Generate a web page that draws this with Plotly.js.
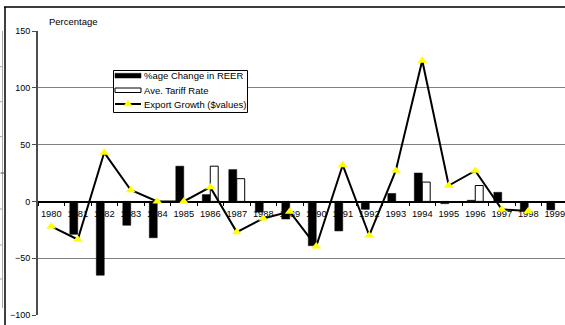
<!DOCTYPE html>
<html>
<head>
<meta charset="utf-8">
<script src="https://cdn.plot.ly/plotly-3.0.1.min.js"></script>
<style>
  html, body { margin: 0; padding: 0; background: #fff; }
  #chart { width: 565px; height: 325px; }
</style>
</head>
<body>
<div id="chart"></div>
<script>
// Yearly series, 1980-1999 (percent)
const years = [1980, 1981, 1982, 1983, 1984, 1985, 1986, 1987, 1988, 1989,
               1990, 1991, 1992, 1993, 1994, 1995, 1996, 1997, 1998, 1999];
const yearLabels = years.map(String);
const reerChange = [null, -29, -65, -21, -32, 31, 6, 28, -9.5, -15.5,
                    -39, -26, -7, 7, 25, -2, 1, 8, -8.5, -7.5];
const tariffRate = [null, null, null, null, null, null, 31, 20, null, null,
                    null, null, null, null, 17, null, 14, null, null, null];
const exportGrowth = [-22, -33.5, 43, 10, 0, 0, 12.5, -27, -15, -9,
                      -39.5, 32, -30, 27, 124, 14, 27, -7, -8.5, null];
const seriesNames = ['%age Change in REER', 'Ave. Tariff Rate', 'Export Growth ($values)'];
const yTicks = [-100, -50, 0, 50, 100, 150];
const yAxisTitle = 'Percentage';

// Page geometry
const W = 565, H = 325;
const M = { l: 38, r: 0, t: 31, b: 10 };
const plotW = W - M.l - M.r, plotH = H - M.t - M.b;
const catPx = 26.5;                       // width of one year slot
const xRange = [years[0] - 0.5, years[0] - 0.5 + plotW / catPx];
const yRange = [-100, 150];
const zeroPos = (0 - yRange[0]) / (yRange[1] - yRange[0]);
const boundaries = years.map(y => y - 0.5).concat([years[years.length - 1] + 0.5]);

// pixel -> paper helpers for decorations
const px = x => (x - M.l) / plotW;
const py = y => 1 - (y - M.t) / plotH;

const FONT = 'Liberation Sans, Arial, sans-serif';

const traces = [
  {
    type: 'bar', x: years, y: reerChange, name: seriesNames[0],
    marker: { color: '#000000', line: { color: '#000000', width: 0.5 } },
    showlegend: false, hoverinfo: 'skip'
  },
  {
    type: 'bar', x: years, y: tariffRate, name: seriesNames[1],
    marker: { color: '#ffffff', line: { color: '#000000', width: 1 } },
    showlegend: false, hoverinfo: 'skip'
  },
  {
    type: 'scatter', mode: 'lines+markers', x: years, y: exportGrowth, name: seriesNames[2],
    line: { color: '#000000', width: 2 },
    marker: { symbol: 'triangle-up', size: 8.5, color: '#ffff00', line: { width: 0 } },
    showlegend: false, hoverinfo: 'skip', cliponaxis: false
  }
];

// Legend drawn as a boxed key
const lg = { x0: 113.5, x1: 247.5, y0: 70.5, y1: 112.5, sx0: 115, sx1: 141, tx: 141.5,
             rows: [75.7, 90, 104] };
const triC = { x: (lg.sx0 + lg.sx1) / 2, y: lg.rows[2] };
const triPath = 'M ' + px(triC.x - 4.6) + ' ' + py(triC.y + 2.3) +
                ' L ' + px(triC.x + 4.6) + ' ' + py(triC.y + 2.3) +
                ' L ' + px(triC.x) + ' ' + py(triC.y - 4.3) + ' Z';

const shapes = [
  // outer frame edges
  { type: 'line', xref: 'paper', yref: 'paper', x0: px(4), x1: px(565), y0: py(7), y1: py(7),
    line: { color: '#3c3c3c', width: 2 } },
  { type: 'line', xref: 'paper', yref: 'paper', x0: px(5), x1: px(5), y0: py(7), y1: py(325),
    line: { color: '#000000', width: 1.5 } },
  // neighbouring panel edge
  { type: 'line', xref: 'paper', yref: 'paper', x0: px(2.5), x1: px(2.5), y0: py(31), y1: py(308),
    line: { color: '#a8a8a8', width: 1 } },
  // legend box and keys
  { type: 'rect', xref: 'paper', yref: 'paper', x0: px(lg.x0), x1: px(lg.x1), y0: py(lg.y0), y1: py(lg.y1),
    fillcolor: '#ffffff', line: { color: '#000000', width: 1 } },
  { type: 'rect', xref: 'paper', yref: 'paper', x0: px(lg.sx0), x1: px(lg.sx1), y0: py(73.3), y1: py(78),
    fillcolor: '#000000', line: { color: '#000000', width: 0.5 } },
  { type: 'rect', xref: 'paper', yref: 'paper', x0: px(lg.sx0), x1: px(lg.sx1), y0: py(88), y1: py(92.5),
    fillcolor: '#ffffff', line: { color: '#000000', width: 1 } },
  { type: 'line', xref: 'paper', yref: 'paper', x0: px(lg.sx0), x1: px(lg.sx1), y0: py(lg.rows[2]), y1: py(lg.rows[2]),
    line: { color: '#000000', width: 2 } },
  { type: 'path', xref: 'paper', yref: 'paper', path: triPath,
    fillcolor: '#ffff00', line: { width: 0 } }
];
[66.7, 101.7, 136.7, 209, 245, 279].forEach(y => shapes.push(
  { type: 'line', xref: 'paper', yref: 'paper', x0: px(0), x1: px(2.5), y0: py(y), y1: py(y),
    line: { color: '#a8a8a8', width: 1 } }));
shapes.push({ type: 'line', xref: 'paper', yref: 'paper', x0: px(0.5), x1: px(4.5), y0: py(173), y1: py(173),
  line: { color: '#555555', width: 1 } });

const annotations = [
  { text: yAxisTitle, xref: 'paper', yref: 'paper', x: px(47), y: py(21.5),
    xanchor: 'left', yanchor: 'middle', showarrow: false,
    font: { family: FONT, size: 9.5, color: '#000000' } }
].concat(seriesNames.map((name, i) => ({
  text: name, xref: 'paper', yref: 'paper', x: px(lg.tx), y: py(lg.rows[i]),
  xanchor: 'left', yanchor: 'middle', showarrow: false,
  font: { family: FONT, size: 9.5, color: '#000000' }
})));

const layout = {
  width: W, height: H,
  margin: M,
  paper_bgcolor: '#ffffff', plot_bgcolor: '#ffffff',
  font: { family: FONT, size: 9, color: '#000000' },
  showlegend: false,
  barmode: 'group', bargap: 0.4, bargroupgap: 0,
  xaxis: {
    type: 'linear', range: xRange, anchor: 'free', position: zeroPos,
    showline: true, linecolor: '#000000', linewidth: 1.5,
    tickmode: 'array', tickvals: years, ticktext: yearLabels, ticks: '',
    ticklabelstandoff: 3, ticklabeloverflow: 'allow',
    minor: { tickmode: 'array', tickvals: boundaries, ticks: 'outside', ticklen: 3.5,
             tickcolor: '#000000', tickwidth: 1 },
    showgrid: false, zeroline: false, layer: 'below traces',
    tickfont: { family: FONT, size: 9.3, color: '#000000' }, fixedrange: true
  },
  xaxis2: {
    type: 'linear', range: xRange, overlaying: 'x', anchor: 'free', position: zeroPos, side: 'bottom',
    tickmode: 'array', tickvals: boundaries, ticks: 'inside', ticklen: 3.5,
    tickcolor: '#000000', tickwidth: 1, showticklabels: false,
    showline: false, showgrid: false, zeroline: false, layer: 'below traces', fixedrange: true
  },
  yaxis: {
    range: yRange, tickmode: 'array', tickvals: yTicks,
    showgrid: true, gridcolor: '#808080', gridwidth: 1, zeroline: false,
    showline: true, linecolor: '#4d4d4d', linewidth: 2,
    ticks: 'outside', ticklen: 4, tickcolor: '#4d4d4d', tickwidth: 1,
    tickfont: { family: FONT, size: 9, color: '#000000' }, fixedrange: true
  },
  shapes: shapes,
  annotations: annotations
};

Plotly.newPlot('chart', traces, layout, { staticPlot: true, displayModeBar: false });
</script>
</body>
</html>
